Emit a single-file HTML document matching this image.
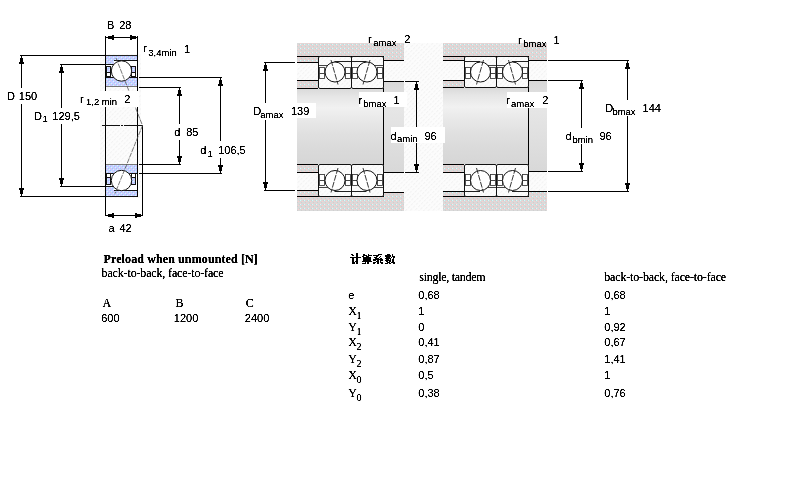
<!DOCTYPE html>
<html><head><meta charset="utf-8"><style>
html,body{margin:0;padding:0;background:#fff;width:800px;height:500px;overflow:hidden}
svg{display:block}
</style></head><body>
<svg width="800" height="500" viewBox="0 0 800 500">
<defs>
<pattern id="hatch" width="3.2" height="4" patternUnits="userSpaceOnUse" patternTransform="rotate(45)">
<rect width="3.2" height="4" fill="#fcfcfc"/><rect width="1" height="2.6" fill="#f2f2f2"/></pattern>
<pattern id="blue" x="0" y="0" width="4" height="4" patternUnits="userSpaceOnUse">
<rect width="4" height="4" fill="#ccccff"/><rect x="0" y="0" width="1" height="1" fill="#99ccff"/><rect x="2" y="2" width="1" height="1" fill="#99ccff"/><rect x="1" y="1" width="1" height="1" fill="#ccffff"/><rect x="3" y="3" width="1" height="1" fill="#ccffff"/><rect x="2" y="0" width="1" height="1" fill="#d4c8e8"/></pattern>
<pattern id="hous" x="0" y="0" width="4" height="4" patternUnits="userSpaceOnUse">
<rect width="4" height="4" fill="#d9d9d9"/><rect x="1" y="2" width="1" height="1" fill="#cfcfcf"/><rect x="3" y="0" width="1" height="1" fill="#cfcfcf"/><rect x="2" y="1" width="1" height="1" fill="#ffcccc"/><rect x="0" y="3" width="1" height="1" fill="#ffcccc"/><rect x="0" y="0" width="1" height="1" fill="#ccffff"/></pattern>
<filter id="crisp" x="0" y="0" width="800" height="500" filterUnits="userSpaceOnUse" color-interpolation-filters="sRGB"><feComponentTransfer><feFuncA type="table" tableValues="0 0.05 0.6 1 1 1"/></feComponentTransfer></filter>
<filter id="crisp2" x="0" y="0" width="800" height="500" filterUnits="userSpaceOnUse" color-interpolation-filters="sRGB"><feComponentTransfer><feFuncA type="table" tableValues="0 0.12 0.7 1 1 1"/></feComponentTransfer></filter>
<linearGradient id="shaft" x1="0" y1="0" x2="0" y2="1">
<stop offset="0" stop-color="#dadada"/><stop offset="0.1" stop-color="#e6e6e6"/><stop offset="0.25" stop-color="#f1f1f1"/><stop offset="0.4" stop-color="#e9e9e9"/><stop offset="0.6" stop-color="#e0e0e0"/><stop offset="0.8" stop-color="#dadada"/><stop offset="1" stop-color="#d6d6d6"/></linearGradient>
<linearGradient id="shaft2" x1="0" y1="0" x2="0" y2="1">
<stop offset="0" stop-color="#d8d8d8"/><stop offset="0.3" stop-color="#e6e6e6"/><stop offset="0.5" stop-color="#e2e2e2"/><stop offset="1" stop-color="#d8d8d8"/></linearGradient>
</defs>
<rect width="800" height="500" fill="#fff"/>
<style>.s{font-family:"Liberation Sans",sans-serif;fill:#000;filter:url(#crisp)}.f{font-family:"Liberation Serif",serif;fill:#000;filter:url(#crisp2)}</style>
<rect x="100" y="54" width="41" height="144" fill="url(#hatch)"/>
<rect x="20" y="55" width="85" height="1" fill="#000"/>
<rect x="21" y="56" width="1" height="32" fill="#000"/>
<rect x="21" y="104" width="1" height="92" fill="#000"/>
<rect x="20" y="196" width="85" height="1" fill="#000"/>
<rect x="21" y="56" width="1" height="2" fill="#000"/>
<rect x="20" y="58" width="3" height="4" fill="#000"/>
<rect x="19" y="62" width="5" height="2" fill="#000"/>
<rect x="21" y="194" width="1" height="2" fill="#000"/>
<rect x="20" y="190" width="3" height="4" fill="#000"/>
<rect x="19" y="188" width="5" height="2" fill="#000"/>
<rect x="60" y="64" width="45" height="1" fill="#000"/>
<rect x="61" y="65" width="1" height="43" fill="#000"/>
<rect x="61" y="124" width="1" height="62" fill="#000"/>
<rect x="60" y="186" width="45" height="1" fill="#000"/>
<rect x="61" y="65" width="1" height="2" fill="#000"/>
<rect x="60" y="67" width="3" height="4" fill="#000"/>
<rect x="59" y="71" width="5" height="2" fill="#000"/>
<rect x="61" y="184" width="1" height="2" fill="#000"/>
<rect x="60" y="180" width="3" height="4" fill="#000"/>
<rect x="59" y="178" width="5" height="2" fill="#000"/>
<rect x="139" y="77" width="83" height="1" fill="#000"/>
<rect x="220" y="78" width="1" height="63" fill="#000"/>
<rect x="220" y="158" width="1" height="15" fill="#000"/>
<rect x="139" y="173" width="83" height="1" fill="#000"/>
<rect x="220" y="78" width="1" height="2" fill="#000"/>
<rect x="219" y="80" width="3" height="4" fill="#000"/>
<rect x="218" y="84" width="5" height="2" fill="#000"/>
<rect x="220" y="171" width="1" height="2" fill="#000"/>
<rect x="219" y="167" width="3" height="4" fill="#000"/>
<rect x="218" y="165" width="5" height="2" fill="#000"/>
<rect x="139" y="87" width="42" height="1" fill="#000"/>
<rect x="179" y="88" width="1" height="36" fill="#000"/>
<rect x="179" y="140" width="1" height="24" fill="#000"/>
<rect x="139" y="164" width="42" height="1" fill="#000"/>
<rect x="179" y="88" width="1" height="2" fill="#000"/>
<rect x="178" y="90" width="3" height="4" fill="#000"/>
<rect x="177" y="94" width="5" height="2" fill="#000"/>
<rect x="179" y="162" width="1" height="2" fill="#000"/>
<rect x="178" y="158" width="3" height="4" fill="#000"/>
<rect x="177" y="156" width="5" height="2" fill="#000"/>
<rect x="105" y="36" width="1" height="19" fill="#000"/>
<rect x="137" y="36" width="1" height="19" fill="#000"/>
<rect x="105" y="37" width="33" height="1" fill="#000"/>
<rect x="106" y="37" width="2" height="1" fill="#000"/>
<rect x="108" y="36" width="4" height="3" fill="#000"/>
<rect x="112" y="35" width="2" height="5" fill="#000"/>
<rect x="136" y="37" width="2" height="1" fill="#000"/>
<rect x="132" y="36" width="4" height="3" fill="#000"/>
<rect x="130" y="35" width="2" height="5" fill="#000"/>
<rect x="105" y="196" width="1" height="20" fill="#000"/>
<rect x="142" y="126" width="1" height="90" fill="#000"/>
<rect x="105" y="215" width="38" height="1" fill="#000"/>
<rect x="106" y="215" width="2" height="1" fill="#000"/>
<rect x="108" y="214" width="4" height="3" fill="#000"/>
<rect x="112" y="213" width="2" height="5" fill="#000"/>
<rect x="141" y="215" width="2" height="1" fill="#000"/>
<rect x="137" y="214" width="4" height="3" fill="#000"/>
<rect x="135" y="213" width="2" height="5" fill="#000"/>
<g>
<rect x="105" y="55" width="33" height="32" fill="#fff"/>
<rect x="106" y="56" width="31" height="4" fill="url(#blue)"/>
<rect x="106" y="56" width="8" height="8" fill="url(#blue)"/>
<rect x="106" y="78" width="31" height="8" fill="url(#blue)"/>
<rect x="105" y="55" width="33" height="1" fill="#222"/>
<rect x="106" y="64" width="8" height="1" fill="#111"/>
<rect x="114" y="60" width="23" height="1" fill="#111"/>
<rect x="106" y="77" width="31" height="1" fill="#111"/>
<rect x="106" y="86" width="31" height="1" fill="#777"/>
<rect x="106.5" y="66.5" width="4" height="10" fill="#fff" stroke="#111" stroke-width="1"/>
<rect x="107" y="67" width="3" height="5" fill="url(#blue)"/>
<rect x="106" y="72" width="5" height="1" fill="#111"/>
<rect x="131.5" y="66.5" width="4" height="10" fill="#fff" stroke="#111" stroke-width="1"/>
<rect x="132" y="67" width="3" height="5" fill="url(#blue)"/>
<rect x="131" y="72" width="5" height="1" fill="#111"/>
<circle cx="121.5" cy="71" r="10.2" fill="#fff" stroke="#111" stroke-width="1"/>
</g>
<g>
<rect x="105" y="164" width="33" height="33" fill="#fff"/>
<rect x="106" y="165" width="31" height="8" fill="url(#blue)"/>
<rect x="106" y="191" width="31" height="5" fill="url(#blue)"/>
<rect x="106" y="187" width="8" height="9" fill="url(#blue)"/>
<rect x="106" y="164" width="31" height="1" fill="#777"/>
<rect x="106" y="173" width="31" height="1" fill="#111"/>
<rect x="106" y="186" width="8" height="1" fill="#111"/>
<rect x="114" y="190" width="23" height="1" fill="#111"/>
<rect x="106" y="196" width="31" height="1" fill="#111"/>
<rect x="106.5" y="173.5" width="4" height="11" fill="#fff" stroke="#111" stroke-width="1"/>
<rect x="107" y="178" width="3" height="6" fill="url(#blue)"/>
<rect x="106" y="177" width="5" height="1" fill="#111"/>
<rect x="131.5" y="173.5" width="4" height="11" fill="#fff" stroke="#111" stroke-width="1"/>
<rect x="132" y="178" width="3" height="6" fill="url(#blue)"/>
<rect x="131" y="177" width="5" height="1" fill="#111"/>
<circle cx="121.5" cy="180.5" r="10.2" fill="#fff" stroke="#111" stroke-width="1"/>
</g>
<rect x="105" y="55" width="1" height="142" fill="#000"/>
<rect x="137" y="55" width="1" height="142" fill="#000"/>
<rect x="102" y="125" width="18" height="1" fill="#111"/>
<rect x="121" y="125" width="2" height="1" fill="#111"/>
<rect x="124" y="125" width="19" height="1" fill="#111"/>
<polyline points="116,58 142.5,125.5 115,193.5" fill="none" stroke="#555" stroke-width="0.8" stroke-dasharray="5,1"/>
<rect x="79" y="91" width="60" height="16" fill="#fff"/>
<text id="t1" x="106.90" y="29" class="s" font-size="11">B</text>
<text id="t2" x="119.20" y="29" class="s" font-size="11">28</text>
<text id="t3" x="143.30" y="52" class="s" font-size="11">r</text>
<text id="t4" x="148.30" y="55.5" class="s" font-size="9.5">3,4min</text>
<text id="t5" x="184.00" y="52.5" class="s" font-size="11">1</text>
<text id="t6" x="6.90" y="100" class="s" font-size="11">D</text>
<text id="t7" x="18.80" y="100" class="s" font-size="11">150</text>
<text id="t8" x="34.10" y="119.5" class="s" font-size="11">D</text>
<text id="t9" x="42.40" y="122" class="s" font-size="9.5">1</text>
<text id="t10" x="52.30" y="119.5" class="s" font-size="11">129,5</text>
<text id="t11" x="80.00" y="102.5" class="s" font-size="11">r</text>
<text id="t12" x="86.00" y="105" class="s" font-size="9.5">1,2 min</text>
<text id="t13" x="124.20" y="102.5" class="s" font-size="11">2</text>
<text id="t14" x="174.20" y="136" class="s" font-size="11">d</text>
<text id="t15" x="186.20" y="136" class="s" font-size="11">85</text>
<text id="t16" x="200.30" y="154" class="s" font-size="11">d</text>
<text id="t17" x="207.60" y="156.5" class="s" font-size="9.5">1</text>
<text id="t18" x="218.20" y="154" class="s" font-size="11">106,5</text>
<text id="t19" x="108.50" y="231.5" class="s" font-size="11">a</text>
<text id="t20" x="119.40" y="231.5" class="s" font-size="11">42</text>
<rect x="404" y="43" width="39" height="168" fill="url(#hatch)"/>
<rect x="297" y="43" width="107" height="13" fill="url(#hous)"/>
<rect x="297" y="57" width="21" height="5" fill="url(#hous)"/>
<rect x="384" y="56" width="20" height="4" fill="url(#hous)"/>
<rect x="297" y="63" width="21" height="17" fill="url(#hatch)"/>
<rect x="384" y="61" width="20" height="20" fill="url(#hatch)"/>
<rect x="297" y="81" width="21" height="7" fill="url(#hous)"/>
<rect x="297" y="89" width="87" height="75" fill="url(#shaft)"/>
<rect x="384" y="82" width="20" height="90" fill="url(#shaft2)"/>
<rect x="297" y="165" width="21" height="7" fill="url(#hous)"/>
<rect x="297" y="173" width="21" height="17" fill="url(#hatch)"/>
<rect x="384" y="173" width="20" height="19" fill="url(#hatch)"/>
<rect x="297" y="191" width="21" height="5" fill="url(#hous)"/>
<rect x="384" y="193" width="20" height="4" fill="url(#hous)"/>
<rect x="297" y="197" width="107" height="14" fill="url(#hous)"/>
<rect x="297" y="56" width="87" height="1" fill="#000"/>
<rect x="264" y="62" width="31" height="1" fill="#000"/>
<rect x="297" y="62" width="21" height="1" fill="#000"/>
<rect x="297" y="80" width="21" height="1" fill="#000"/>
<rect x="297" y="88" width="21" height="1" fill="#000"/>
<rect x="384" y="60" width="20" height="1" fill="#000"/>
<rect x="384" y="81" width="20" height="1" fill="#000"/>
<rect x="405" y="81" width="14" height="1" fill="#000"/>
<rect x="297" y="164" width="21" height="1" fill="#000"/>
<rect x="297" y="172" width="21" height="1" fill="#000"/>
<rect x="264" y="190" width="31" height="1" fill="#000"/>
<rect x="297" y="190" width="21" height="1" fill="#000"/>
<rect x="297" y="196" width="87" height="1" fill="#000"/>
<rect x="384" y="172" width="20" height="1" fill="#000"/>
<rect x="405" y="172" width="14" height="1" fill="#000"/>
<rect x="384" y="192" width="20" height="1" fill="#000"/>
<rect x="383" y="88" width="1" height="77" fill="#000"/>
<rect x="318.5" y="56.5" width="33" height="32" rx="1.5" fill="url(#hatch)" stroke="#111" stroke-width="1"/>
<rect x="319.5" y="67.5" width="5" height="11" fill="#fff" stroke="#333" stroke-width="0.85"/>
<rect x="319.0" y="73" width="6" height="1" fill="#444"/>
<rect x="345.5" y="67.5" width="5" height="11" fill="#fff" stroke="#333" stroke-width="0.85"/>
<rect x="345.0" y="73" width="6" height="1" fill="#444"/>
<rect x="334.5" y="61" width="16.5" height="1" fill="#222"/>
<rect x="319" y="65" width="9.5" height="1" fill="#444"/>
<circle cx="335.0" cy="72" r="10" fill="#fff" stroke="#111" stroke-width="1"/>
<line x1="331.0" y1="60" x2="338.0" y2="84.5" stroke="#222" stroke-width="0.9" stroke-dasharray="6,1.2"/>
<rect x="351.5" y="56.5" width="32" height="32" rx="1.5" fill="url(#hatch)" stroke="#111" stroke-width="1"/>
<rect x="352.5" y="67.5" width="5" height="11" fill="#fff" stroke="#333" stroke-width="0.85"/>
<rect x="352.0" y="73" width="6" height="1" fill="#444"/>
<rect x="377.5" y="67.5" width="5" height="11" fill="#fff" stroke="#333" stroke-width="0.85"/>
<rect x="377.0" y="73" width="6" height="1" fill="#444"/>
<rect x="352" y="61" width="14.5" height="1" fill="#222"/>
<rect x="372.5" y="65" width="10.5" height="1" fill="#444"/>
<circle cx="367.0" cy="72" r="10" fill="#fff" stroke="#111" stroke-width="1"/>
<line x1="370.0" y1="60" x2="363.0" y2="84.5" stroke="#222" stroke-width="0.9" stroke-dasharray="6,1.2"/>
<rect x="318.5" y="164.5" width="33" height="32" rx="1.5" fill="url(#hatch)" stroke="#111" stroke-width="1"/>
<rect x="319.5" y="174.5" width="5" height="11" fill="#fff" stroke="#333" stroke-width="0.85"/>
<rect x="319.0" y="180" width="6" height="1" fill="#444"/>
<rect x="345.5" y="174.5" width="5" height="11" fill="#fff" stroke="#333" stroke-width="0.85"/>
<rect x="345.0" y="180" width="6" height="1" fill="#444"/>
<rect x="334.5" y="191" width="16.5" height="1" fill="#222"/>
<rect x="319" y="187" width="9.5" height="1" fill="#444"/>
<circle cx="335.0" cy="180.5" r="10" fill="#fff" stroke="#111" stroke-width="1"/>
<line x1="338.0" y1="168" x2="331.0" y2="192.5" stroke="#222" stroke-width="0.9" stroke-dasharray="6,1.2"/>
<rect x="351.5" y="164.5" width="32" height="32" rx="1.5" fill="url(#hatch)" stroke="#111" stroke-width="1"/>
<rect x="352.5" y="174.5" width="5" height="11" fill="#fff" stroke="#333" stroke-width="0.85"/>
<rect x="352.0" y="180" width="6" height="1" fill="#444"/>
<rect x="377.5" y="174.5" width="5" height="11" fill="#fff" stroke="#333" stroke-width="0.85"/>
<rect x="377.0" y="180" width="6" height="1" fill="#444"/>
<rect x="352" y="191" width="14.5" height="1" fill="#222"/>
<rect x="372.5" y="187" width="10.5" height="1" fill="#444"/>
<circle cx="367.0" cy="180.5" r="10" fill="#fff" stroke="#111" stroke-width="1"/>
<line x1="363.0" y1="168" x2="370.0" y2="192.5" stroke="#222" stroke-width="0.9" stroke-dasharray="6,1.2"/>
<rect x="265" y="63" width="1" height="40" fill="#000"/>
<rect x="265" y="120" width="1" height="70" fill="#000"/>
<rect x="265" y="63" width="1" height="2" fill="#000"/>
<rect x="264" y="65" width="3" height="4" fill="#000"/>
<rect x="263" y="69" width="5" height="2" fill="#000"/>
<rect x="265" y="188" width="1" height="2" fill="#000"/>
<rect x="264" y="184" width="3" height="4" fill="#000"/>
<rect x="263" y="182" width="5" height="2" fill="#000"/>
<rect x="416" y="82" width="1" height="45" fill="#000"/>
<rect x="416" y="143" width="1" height="29" fill="#000"/>
<rect x="416" y="82" width="1" height="2" fill="#000"/>
<rect x="415" y="84" width="3" height="4" fill="#000"/>
<rect x="414" y="88" width="5" height="2" fill="#000"/>
<rect x="416" y="170" width="1" height="2" fill="#000"/>
<rect x="415" y="166" width="3" height="4" fill="#000"/>
<rect x="414" y="164" width="5" height="2" fill="#000"/>
<rect x="443" y="43" width="104" height="13" fill="url(#hous)"/>
<rect x="443" y="57" width="21" height="3" fill="url(#hous)"/>
<rect x="529" y="56" width="18" height="4" fill="url(#hous)"/>
<rect x="443" y="61" width="21" height="19" fill="url(#hatch)"/>
<rect x="529" y="61" width="18" height="19" fill="url(#hatch)"/>
<rect x="443" y="81" width="21" height="6" fill="url(#hous)"/>
<rect x="443" y="88" width="86" height="76" fill="url(#shaft)"/>
<rect x="529" y="81" width="18" height="91" fill="url(#shaft2)"/>
<rect x="443" y="165" width="21" height="7" fill="url(#hous)"/>
<rect x="443" y="173" width="21" height="18" fill="url(#hatch)"/>
<rect x="529" y="172" width="18" height="19" fill="url(#hatch)"/>
<rect x="443" y="192" width="21" height="4" fill="url(#hous)"/>
<rect x="529" y="192" width="18" height="5" fill="url(#hous)"/>
<rect x="443" y="197" width="104" height="14" fill="url(#hous)"/>
<rect x="443" y="56" width="86" height="1" fill="#000"/>
<rect x="443" y="60" width="21" height="1" fill="#000"/>
<rect x="529" y="60" width="18" height="1" fill="#000"/>
<rect x="548" y="60" width="81" height="1" fill="#000"/>
<rect x="443" y="80" width="21" height="1" fill="#000"/>
<rect x="529" y="80" width="18" height="1" fill="#000"/>
<rect x="548" y="80" width="35" height="1" fill="#000"/>
<rect x="443" y="87" width="21" height="1" fill="#000"/>
<rect x="443" y="164" width="21" height="1" fill="#000"/>
<rect x="443" y="172" width="21" height="1" fill="#000"/>
<rect x="529" y="171" width="18" height="1" fill="#000"/>
<rect x="548" y="171" width="35" height="1" fill="#000"/>
<rect x="443" y="191" width="21" height="1" fill="#000"/>
<rect x="529" y="191" width="18" height="1" fill="#000"/>
<rect x="548" y="191" width="81" height="1" fill="#000"/>
<rect x="443" y="196" width="86" height="1" fill="#000"/>
<rect x="528" y="87" width="1" height="78" fill="#000"/>
<rect x="464.5" y="56.5" width="32" height="31" rx="1.5" fill="url(#hatch)" stroke="#111" stroke-width="1"/>
<rect x="465.5" y="67.5" width="5" height="11" fill="#fff" stroke="#333" stroke-width="0.85"/>
<rect x="465.0" y="73" width="6" height="1" fill="#444"/>
<rect x="490.5" y="67.5" width="5" height="11" fill="#fff" stroke="#333" stroke-width="0.85"/>
<rect x="490.0" y="73" width="6" height="1" fill="#444"/>
<rect x="465" y="61" width="15" height="1" fill="#222"/>
<rect x="486" y="65" width="10" height="1" fill="#444"/>
<circle cx="480.5" cy="72" r="10" fill="#fff" stroke="#111" stroke-width="1"/>
<line x1="483.5" y1="60" x2="476.5" y2="84.5" stroke="#222" stroke-width="0.9" stroke-dasharray="6,1.2"/>
<rect x="496.5" y="56.5" width="32" height="31" rx="1.5" fill="url(#hatch)" stroke="#111" stroke-width="1"/>
<rect x="497.5" y="67.5" width="5" height="11" fill="#fff" stroke="#333" stroke-width="0.85"/>
<rect x="497.0" y="73" width="6" height="1" fill="#444"/>
<rect x="522.5" y="67.5" width="5" height="11" fill="#fff" stroke="#333" stroke-width="0.85"/>
<rect x="522.0" y="73" width="6" height="1" fill="#444"/>
<rect x="512" y="61" width="16" height="1" fill="#222"/>
<rect x="497" y="65" width="9" height="1" fill="#444"/>
<circle cx="512.5" cy="72" r="10" fill="#fff" stroke="#111" stroke-width="1"/>
<line x1="508.5" y1="60" x2="515.5" y2="84.5" stroke="#222" stroke-width="0.9" stroke-dasharray="6,1.2"/>
<rect x="464.5" y="164.5" width="32" height="32" rx="1.5" fill="url(#hatch)" stroke="#111" stroke-width="1"/>
<rect x="465.5" y="174.5" width="5" height="11" fill="#fff" stroke="#333" stroke-width="0.85"/>
<rect x="465.0" y="180" width="6" height="1" fill="#444"/>
<rect x="490.5" y="174.5" width="5" height="11" fill="#fff" stroke="#333" stroke-width="0.85"/>
<rect x="490.0" y="180" width="6" height="1" fill="#444"/>
<rect x="465" y="191" width="15" height="1" fill="#222"/>
<rect x="486" y="187" width="10" height="1" fill="#444"/>
<circle cx="480.5" cy="180.5" r="10" fill="#fff" stroke="#111" stroke-width="1"/>
<line x1="476.5" y1="168" x2="483.5" y2="192.5" stroke="#222" stroke-width="0.9" stroke-dasharray="6,1.2"/>
<rect x="496.5" y="164.5" width="32" height="32" rx="1.5" fill="url(#hatch)" stroke="#111" stroke-width="1"/>
<rect x="497.5" y="174.5" width="5" height="11" fill="#fff" stroke="#333" stroke-width="0.85"/>
<rect x="497.0" y="180" width="6" height="1" fill="#444"/>
<rect x="522.5" y="174.5" width="5" height="11" fill="#fff" stroke="#333" stroke-width="0.85"/>
<rect x="522.0" y="180" width="6" height="1" fill="#444"/>
<rect x="512" y="191" width="16" height="1" fill="#222"/>
<rect x="497" y="187" width="9" height="1" fill="#444"/>
<circle cx="512.5" cy="180.5" r="10" fill="#fff" stroke="#111" stroke-width="1"/>
<line x1="515.5" y1="168" x2="508.5" y2="192.5" stroke="#222" stroke-width="0.9" stroke-dasharray="6,1.2"/>
<rect x="627" y="61" width="1" height="39" fill="#000"/>
<rect x="627" y="116" width="1" height="75" fill="#000"/>
<rect x="627" y="61" width="1" height="2" fill="#000"/>
<rect x="626" y="63" width="3" height="4" fill="#000"/>
<rect x="625" y="67" width="5" height="2" fill="#000"/>
<rect x="627" y="189" width="1" height="2" fill="#000"/>
<rect x="626" y="185" width="3" height="4" fill="#000"/>
<rect x="625" y="183" width="5" height="2" fill="#000"/>
<rect x="581" y="81" width="1" height="47" fill="#000"/>
<rect x="581" y="144" width="1" height="27" fill="#000"/>
<rect x="581" y="81" width="1" height="2" fill="#000"/>
<rect x="580" y="83" width="3" height="4" fill="#000"/>
<rect x="579" y="87" width="5" height="2" fill="#000"/>
<rect x="581" y="169" width="1" height="2" fill="#000"/>
<rect x="580" y="165" width="3" height="4" fill="#000"/>
<rect x="579" y="163" width="5" height="2" fill="#000"/>
<rect x="288" y="103" width="28" height="15" fill="#fff"/>
<rect x="359" y="92" width="48" height="15" fill="#fff"/>
<rect x="391" y="127" width="54" height="16" fill="#fff"/>
<rect x="507" y="92" width="45" height="16" fill="#fff"/>
<text id="t21" x="368.00" y="42.5" class="s" font-size="11">r</text>
<text id="t22" x="373.30" y="45.5" class="s" font-size="9.5">amax</text>
<text id="t23" x="404.30" y="42.5" class="s" font-size="11">2</text>
<text id="t24" x="253.20" y="115" class="s" font-size="11">D</text>
<text id="t25" x="260.30" y="118" class="s" font-size="9.5">amax</text>
<text id="t26" x="290.90" y="115" class="s" font-size="11">139</text>
<text id="t27" x="358.40" y="103.5" class="s" font-size="11">r</text>
<text id="t28" x="363.20" y="106.5" class="s" font-size="9.5">bmax</text>
<text id="t29" x="393.60" y="104" class="s" font-size="11">1</text>
<text id="t30" x="390.50" y="139.5" class="s" font-size="11">d</text>
<text id="t31" x="397.00" y="142" class="s" font-size="9.5">amin</text>
<text id="t32" x="424.40" y="139.5" class="s" font-size="11">96</text>
<text id="t33" x="518.00" y="43.5" class="s" font-size="11">r</text>
<text id="t34" x="523.30" y="46.5" class="s" font-size="9.5">bmax</text>
<text id="t35" x="553.60" y="43.5" class="s" font-size="11">1</text>
<text id="t36" x="506.20" y="103.8" class="s" font-size="11">r</text>
<text id="t37" x="511.00" y="106.8" class="s" font-size="9.5">amax</text>
<text id="t38" x="542.20" y="103.8" class="s" font-size="11">2</text>
<text id="t39" x="605.20" y="112.2" class="s" font-size="11">D</text>
<text id="t40" x="612.40" y="115.2" class="s" font-size="9.5">bmax</text>
<text id="t41" x="642.60" y="112.2" class="s" font-size="11">144</text>
<text id="t42" x="565.60" y="139.7" class="s" font-size="11">d</text>
<text id="t43" x="572.40" y="142.5" class="s" font-size="9.5">bmin</text>
<text id="t44" x="599.40" y="139.7" class="s" font-size="11">96</text>
<text id="t45" x="103.50" y="263" class="f" font-size="12" font-weight="bold" textLength="154.30" lengthAdjust="spacing">Preload when unmounted [N]</text>
<text id="t46" x="101.60" y="277" class="f" font-size="12" textLength="122.00" lengthAdjust="spacing">back-to-back, face-to-face</text>
<text id="t47" x="102.60" y="307" class="f" font-size="12">A</text>
<text id="t48" x="175.60" y="307" class="f" font-size="12">B</text>
<text id="t49" x="245.80" y="306.5" class="f" font-size="12">C</text>
<text id="t50" x="101.20" y="322" class="s" font-size="11">600</text>
<text id="t51" x="173.80" y="322" class="s" font-size="11">1200</text>
<text id="t52" x="244.80" y="322" class="s" font-size="11">2400</text>
<rect x="351" y="254" width="2" height="1" fill="#000"/>
<rect x="356" y="254" width="2" height="1" fill="#000"/>
<rect x="363" y="254" width="2" height="1" fill="#000"/>
<rect x="368" y="254" width="1" height="1" fill="#000"/>
<rect x="378" y="254" width="4" height="1" fill="#000"/>
<rect x="387" y="254" width="3" height="1" fill="#000"/>
<rect x="392" y="254" width="1" height="1" fill="#000"/>
<rect x="352" y="255" width="2" height="1" fill="#000"/>
<rect x="356" y="255" width="2" height="1" fill="#000"/>
<rect x="363" y="255" width="4" height="1" fill="#000"/>
<rect x="368" y="255" width="4" height="1" fill="#000"/>
<rect x="373" y="255" width="6" height="1" fill="#000"/>
<rect x="385" y="255" width="6" height="1" fill="#000"/>
<rect x="392" y="255" width="1" height="1" fill="#000"/>
<rect x="356" y="256" width="2" height="1" fill="#000"/>
<rect x="362" y="256" width="2" height="1" fill="#000"/>
<rect x="366" y="256" width="3" height="1" fill="#000"/>
<rect x="376" y="256" width="2" height="1" fill="#000"/>
<rect x="380" y="256" width="1" height="1" fill="#000"/>
<rect x="385" y="256" width="6" height="1" fill="#000"/>
<rect x="392" y="256" width="3" height="1" fill="#000"/>
<rect x="350" y="257" width="11" height="1" fill="#000"/>
<rect x="363" y="257" width="8" height="1" fill="#000"/>
<rect x="374" y="257" width="3" height="1" fill="#000"/>
<rect x="379" y="257" width="1" height="1" fill="#000"/>
<rect x="386" y="257" width="4" height="1" fill="#000"/>
<rect x="391" y="257" width="1" height="1" fill="#000"/>
<rect x="393" y="257" width="2" height="1" fill="#000"/>
<rect x="352" y="258" width="2" height="1" fill="#000"/>
<rect x="356" y="258" width="2" height="1" fill="#000"/>
<rect x="363" y="258" width="8" height="1" fill="#000"/>
<rect x="375" y="258" width="4" height="1" fill="#000"/>
<rect x="380" y="258" width="2" height="1" fill="#000"/>
<rect x="385" y="258" width="6" height="1" fill="#000"/>
<rect x="393" y="258" width="1" height="1" fill="#000"/>
<rect x="352" y="259" width="2" height="1" fill="#000"/>
<rect x="356" y="259" width="2" height="1" fill="#000"/>
<rect x="363" y="259" width="8" height="1" fill="#000"/>
<rect x="373" y="259" width="10" height="1" fill="#000"/>
<rect x="386" y="259" width="3" height="1" fill="#000"/>
<rect x="390" y="259" width="1" height="1" fill="#000"/>
<rect x="392" y="259" width="2" height="1" fill="#000"/>
<rect x="352" y="260" width="2" height="1" fill="#000"/>
<rect x="356" y="260" width="2" height="1" fill="#000"/>
<rect x="363" y="260" width="8" height="1" fill="#000"/>
<rect x="373" y="260" width="3" height="1" fill="#000"/>
<rect x="377" y="260" width="2" height="1" fill="#000"/>
<rect x="380" y="260" width="3" height="1" fill="#000"/>
<rect x="385" y="260" width="6" height="1" fill="#000"/>
<rect x="392" y="260" width="2" height="1" fill="#000"/>
<rect x="352" y="261" width="2" height="1" fill="#000"/>
<rect x="355" y="261" width="1" height="1" fill="#000"/>
<rect x="356" y="261" width="2" height="1" fill="#000"/>
<rect x="362" y="261" width="10" height="1" fill="#000"/>
<rect x="376" y="261" width="3" height="1" fill="#000"/>
<rect x="380" y="261" width="1" height="1" fill="#000"/>
<rect x="386" y="261" width="2" height="1" fill="#000"/>
<rect x="389" y="261" width="2" height="1" fill="#000"/>
<rect x="392" y="261" width="2" height="1" fill="#000"/>
<rect x="352" y="262" width="3" height="1" fill="#000"/>
<rect x="356" y="262" width="2" height="1" fill="#000"/>
<rect x="365" y="262" width="1" height="1" fill="#000"/>
<rect x="367" y="262" width="2" height="1" fill="#000"/>
<rect x="373" y="262" width="3" height="1" fill="#000"/>
<rect x="377" y="262" width="2" height="1" fill="#000"/>
<rect x="380" y="262" width="3" height="1" fill="#000"/>
<rect x="387" y="262" width="3" height="1" fill="#000"/>
<rect x="391" y="262" width="4" height="1" fill="#000"/>
<rect x="352" y="263" width="3" height="1" fill="#000"/>
<rect x="356" y="263" width="2" height="1" fill="#000"/>
<rect x="362" y="263" width="4" height="1" fill="#000"/>
<rect x="367" y="263" width="2" height="1" fill="#000"/>
<rect x="373" y="263" width="2" height="1" fill="#000"/>
<rect x="377" y="263" width="2" height="1" fill="#000"/>
<rect x="381" y="263" width="2" height="1" fill="#000"/>
<rect x="385" y="263" width="3" height="1" fill="#000"/>
<rect x="389" y="263" width="2" height="1" fill="#000"/>
<rect x="393" y="263" width="2" height="1" fill="#000"/>
<rect x="356" y="253" width="2" height="1" fill="#000"/>
<text id="t53" x="419.30" y="281" class="f" font-size="12" textLength="66.30" lengthAdjust="spacing">single, tandem</text>
<text id="t54" x="604.20" y="281" class="f" font-size="12" textLength="122.00" lengthAdjust="spacing">back-to-back, face-to-face</text>
<text id="t55" x="348.20" y="299" class="s" font-size="11">e</text>
<text id="t56" x="418.30" y="299" class="s" font-size="11">0,68</text>
<text id="t57" x="604.30" y="299" class="s" font-size="11">0,68</text>
<text id="t58" x="348.30" y="315" class="f" font-size="12">X</text>
<text id="t59" x="356.60" y="319" class="f" font-size="10">1</text>
<text id="t60" x="418.30" y="315" class="s" font-size="11">1</text>
<text id="t61" x="604.30" y="315" class="s" font-size="11">1</text>
<text id="t62" x="348.30" y="331" class="f" font-size="12">Y</text>
<text id="t63" x="356.60" y="335" class="f" font-size="10">1</text>
<text id="t64" x="418.30" y="331" class="s" font-size="11">0</text>
<text id="t65" x="604.30" y="331" class="s" font-size="11">0,92</text>
<text id="t66" x="348.30" y="346" class="f" font-size="12">X</text>
<text id="t67" x="356.60" y="350" class="f" font-size="10">2</text>
<text id="t68" x="418.30" y="346" class="s" font-size="11">0,41</text>
<text id="t69" x="604.30" y="346" class="s" font-size="11">0,67</text>
<text id="t70" x="348.30" y="363" class="f" font-size="12">Y</text>
<text id="t71" x="356.60" y="367" class="f" font-size="10">2</text>
<text id="t72" x="418.30" y="363" class="s" font-size="11">0,87</text>
<text id="t73" x="604.30" y="363" class="s" font-size="11">1,41</text>
<text id="t74" x="348.30" y="379" class="f" font-size="12">X</text>
<text id="t75" x="356.60" y="383" class="f" font-size="10">0</text>
<text id="t76" x="418.30" y="379" class="s" font-size="11">0,5</text>
<text id="t77" x="604.30" y="379" class="s" font-size="11">1</text>
<text id="t78" x="348.30" y="397" class="f" font-size="12">Y</text>
<text id="t79" x="356.60" y="401" class="f" font-size="10">0</text>
<text id="t80" x="418.30" y="397" class="s" font-size="11">0,38</text>
<text id="t81" x="604.30" y="397" class="s" font-size="11">0,76</text>
</svg>
</body></html>
